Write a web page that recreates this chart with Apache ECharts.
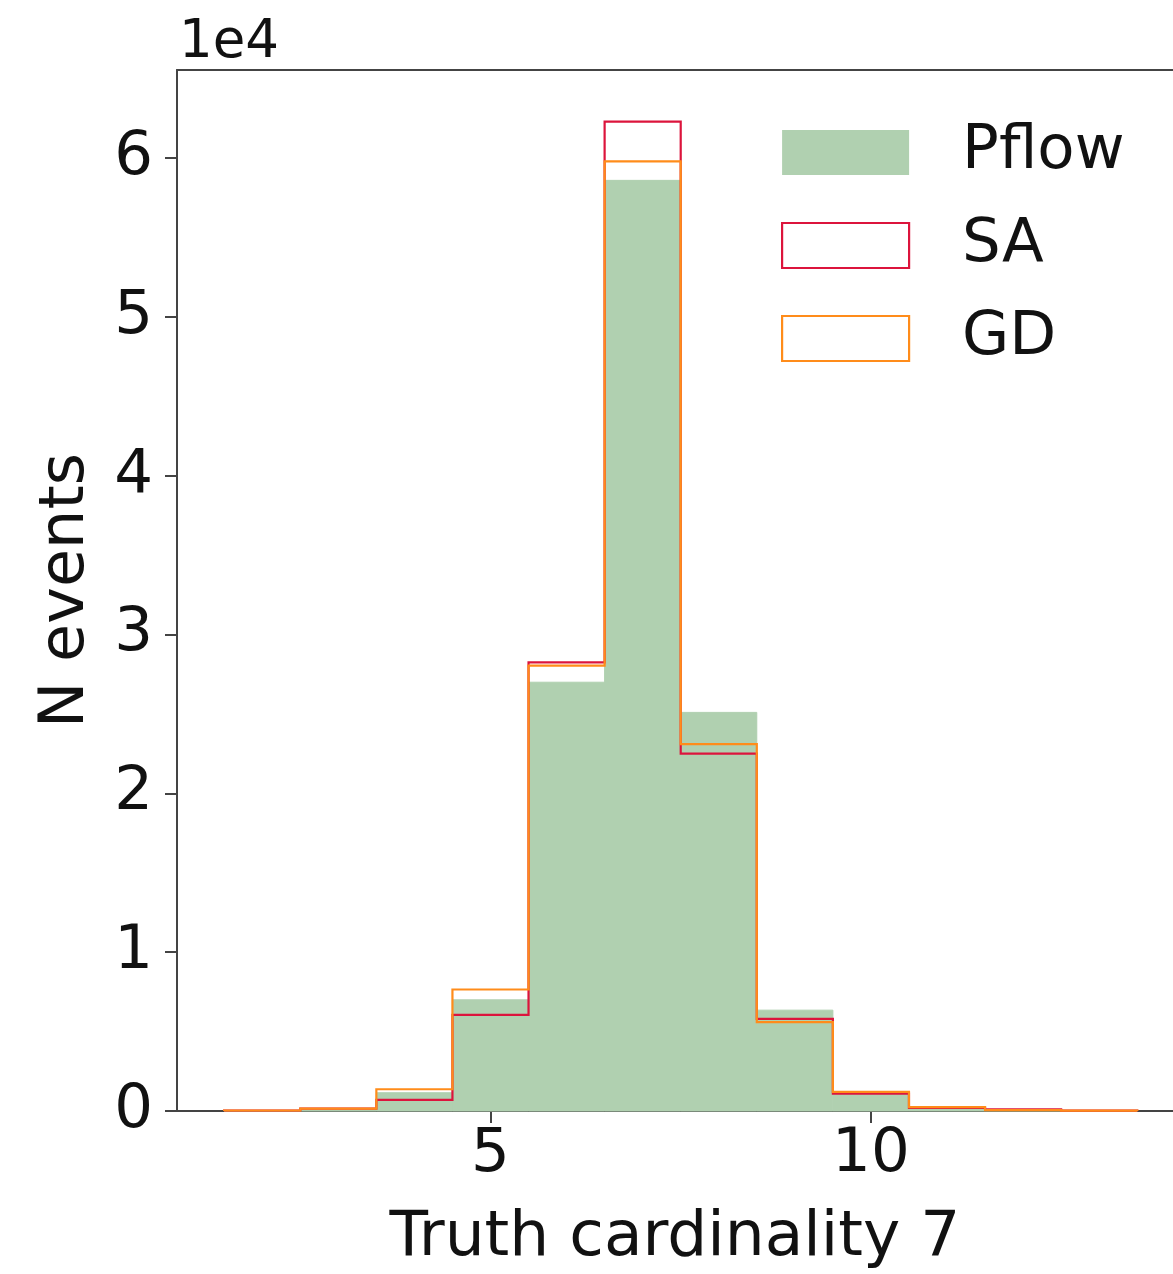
<!DOCTYPE html>
<html>
<head>
<meta charset="utf-8">
<script src="https://cdn.jsdelivr.net/npm/echarts@6/dist/echarts.min.js"></script>
<style>
html,body{margin:0;padding:0;background:#fff;}
#chart{width:1173px;height:1274px;}
</style>
</head>
<body>
<div id="chart"></div>
<script>
// Bin centres (unit-width bins, edges at centre +/- 0.5)
const binCenters = [2, 3, 4, 5, 6, 7, 8, 9, 10, 11, 12, 13];
// Counts per bin
const pflow = [10, 50, 1150, 7000, 27000, 58600, 25100, 6350, 1100, 200, 40, 10];
const sa    = [30, 150, 700, 6050, 28250, 62300, 22500, 5800, 1100, 200, 110, 20];
const gd    = [30, 150, 1370, 7650, 28050, 59800, 23100, 5600, 1200, 250, 60, 20];
const xTicks = [5, 10];
const yTicks = [0, 10000, 20000, 30000, 40000, 50000, 60000];

const FONT = 'DejaVu Sans';
const chart = echarts.init(document.getElementById('chart'));

function barRender(params, api) {
  const c = api.value(0), v = api.value(1);
  const p0 = api.coord([c - 0.5, v]);
  const p1 = api.coord([c + 0.5, 0]);
  return {
    type: 'rect',
    shape: {x: p0[0], y: p0[1], width: p1[0] - p0[0], height: p1[1] - p0[1]},
    style: {fill: '#b0d0b0', stroke: '#b0d0b0', lineWidth: 1}
  };
}

function stepSeries(name, vals, color) {
  const rows = binCenters.map((c, i) => [c, vals[i]]);
  return {
    name: name,
    type: 'custom',
    data: rows,
    itemStyle: {color: color},
    renderItem: function (params, api) {
      if (params.dataIndex !== 0) return null;
      const pts = [];
      pts.push(api.coord([rows[0][0] - 0.5, 0]));
      rows.forEach(r => {
        pts.push(api.coord([r[0] - 0.5, r[1]]));
        pts.push(api.coord([r[0] + 0.5, r[1]]));
      });
      pts.push(api.coord([rows[rows.length - 1][0] + 0.5, 0]));
      return {
        type: 'polyline',
        shape: {points: pts},
        style: {stroke: color, lineWidth: 2.2, fill: null, lineJoin: 'miter'}
      };
    }
  };
}

chart.setOption({
  animation: false,
  grid: {left: 177, top: 70, right: 0, bottom: 163, containLabel: false, outerBoundsMode: 'none'},
  legend: {
    orient: 'vertical',
    left: 776, top: 117,
    itemWidth: 127, itemHeight: 45, itemGap: 32,
    icon: 'rect',
    textStyle: {fontFamily: FONT, fontSize: 61, color: '#111', lineHeight: 45, padding: [0, 0, 0, 48]},
    data: [
      {name: 'Pflow', itemStyle: {color: '#b0d0b0', borderWidth: 0}},
      {name: 'SA', itemStyle: {color: 'rgba(255,255,255,0)', borderColor: '#dc143c', borderWidth: 2.2}},
      {name: 'GD', itemStyle: {color: 'rgba(255,255,255,0)', borderColor: '#ff8c1a', borderWidth: 2.2}}
    ]
  },
  xAxis: [{
    type: 'value', min: 0.88, max: 13.97,
    name: 'Truth cardinality 7', nameLocation: 'middle', nameGap: 96,
    nameTextStyle: {fontFamily: FONT, fontSize: 63, color: '#111'},
    axisLine: {show: true, onZero: false, lineStyle: {color: '#444', width: 2}},
    axisTick: {show: true, length: 12, customValues: xTicks, lineStyle: {color: '#444', width: 2}},
    axisLabel: {customValues: xTicks, fontFamily: FONT, fontSize: 61, color: '#111', margin: 14},
    splitLine: {show: false}
  }, {
    type: 'value', position: 'top', min: 0.88, max: 13.97,
    axisLine: {show: true, onZero: false, lineStyle: {color: '#444', width: 2}},
    axisTick: {show: false}, axisLabel: {show: false}, splitLine: {show: false}
  }],
  yAxis: {
    type: 'value', min: 0, max: 65550,
    name: 'N events', nameLocation: 'middle', nameGap: 79, nameRotate: 90,
    nameTextStyle: {fontFamily: FONT, fontSize: 62, color: '#111'},
    axisLine: {show: true, lineStyle: {color: '#444', width: 2}},
    axisTick: {show: true, length: 12, customValues: yTicks, lineStyle: {color: '#444', width: 2}},
    axisLabel: {customValues: yTicks, fontFamily: FONT, fontSize: 61, color: '#111', margin: 24,
      formatter: v => String(Math.round(v / 10000))},
    splitLine: {show: false}
  },
  graphic: [{
    type: 'text', left: 179, top: 17,
    style: {text: '1e4', font: '53px "DejaVu Sans"', fill: '#111'}
  }],
  series: [
    {name: 'Pflow', type: 'custom', renderItem: barRender, itemStyle: {color: '#b0d0b0'},
     data: binCenters.map((c, i) => [c, pflow[i]])},
    stepSeries('SA', sa, '#dc143c'),
    stepSeries('GD', gd, '#ff8c1a')
  ]
});
</script>
</body>
</html>
